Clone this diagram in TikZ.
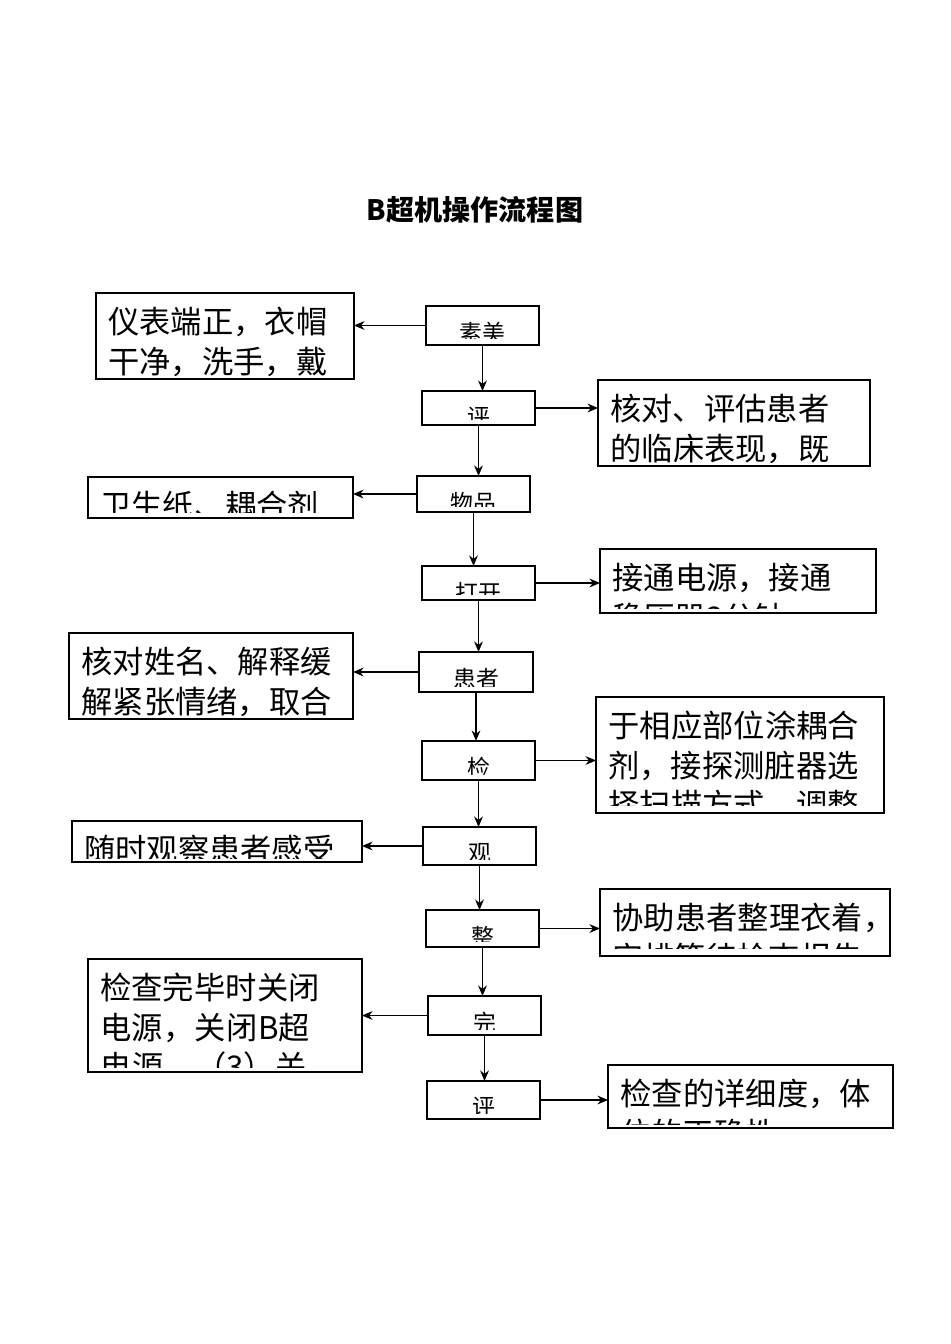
\documentclass[tikz,border=0pt]{standalone}
\usepackage{fontspec}
\setmainfont{Noto Sans CJK SC}
\XeTeXlinebreaklocale "zh"
\XeTeXlinebreakskip=0pt plus 1pt
\usetikzlibrary{arrows.meta}

% box drawn from pixel corners: name, x1, y1, x2, y2
\newcommand\mkbox[5]{%
  \node[box,minimum width={(#4-#2)*0.02cm},minimum height={(#5-#3)*0.02cm}]
    (#1) at ({(#2+#4)/2},{(#3+#5)/2}) {};}
% side text, cut off by its box: x1, y1, x2, clip bottom, text width, text
\newcommand\sidetext[6]{%
  \begin{scope}
    \clip (#1+2,#2+2) rectangle (#3-2,#4);
    \node[side text,text width=#5] at (#1+12,#2+14) {#6};
  \end{scope}}
% step text, cut off by its box: x1, y1, x2, y2, text
\newcommand\steptext[5]{%
  \begin{scope}
    \clip (#1+2,#2+2) rectangle (#3-2,#4-6);
    \node[step text] at ({(#1+#3)/2},#2+16) {#5};
  \end{scope}}

\begin{document}
\begin{tikzpicture}[x=0.02cm,y=-0.02cm,
    box/.style={draw,line width=1.1pt,inner sep=0pt,outer sep=0pt},
    side text/.style={anchor=north west,inner sep=0pt,align=left,
      font=\fontsize{17.8pt}{22.5pt}\selectfont},
    step text/.style={anchor=north,inner sep=0pt,
      font=\fontsize{13pt}{15pt}\selectfont},
    flow/.style={line width=0.8pt,-{Stealth[length=6pt,width=5pt]}}]
\useasboundingbox (0,0) rectangle (950,1344);

\node[font=\bfseries\fontsize{16pt}{18pt}\selectfont] (title) at (475,210) {B超机操作流程图};

% steps
\steptext{426}{306}{539}{345}{素美}
\mkbox{s1}{426}{306}{539}{345}
\steptext{422}{391}{535}{425}{评}
\mkbox{s2}{422}{391}{535}{425}
\steptext{417}{476}{530}{512}{物品}
\mkbox{s3}{417}{476}{530}{512}
\steptext{422}{566}{535}{600}{打开}
\mkbox{s4}{422}{566}{535}{600}
\steptext{419}{652}{533}{692}{患者}
\mkbox{s5}{419}{652}{533}{692}
\steptext{422}{741}{535}{780}{检}
\mkbox{s6}{422}{741}{535}{780}
\steptext{423}{827}{536}{865}{观}
\mkbox{s7}{423}{827}{536}{865}
\steptext{426}{910}{539}{947}{整}
\mkbox{s8}{426}{910}{539}{947}
\steptext{428}{996}{541}{1035}{完}
\mkbox{s9}{428}{996}{541}{1035}
\steptext{427}{1081}{540}{1119}{评}
\mkbox{s10}{427}{1081}{540}{1119}

% side notes
\sidetext{96}{293}{354}{376}{126pt}{仪表端正，衣帽干净，洗手，戴口罩}
\mkbox{n1}{96}{293}{354}{379}
\sidetext{598}{380}{870}{462}{126pt}{核对、评估患者的临床表现，既往史}
\mkbox{n2}{598}{380}{870}{466}
\sidetext{88}{477}{353}{512}{126pt}{卫生纸、耦合剂}
\mkbox{n3}{88}{477}{353}{518}
\sidetext{600}{549}{876}{608}{126pt}{接通电源，接通稳压器2分钟}
\mkbox{n4}{600}{549}{876}{613}
\sidetext{69}{633}{353}{715}{144pt}{核对姓名、解释缓解紧张情绪，取合适体位}
\mkbox{n5}{69}{633}{353}{719}
\sidetext{596}{697}{884}{805}{144pt}{于相应部位涂耦合剂，接探测脏器选择扫描方式，调整参数}
\mkbox{n6}{596}{697}{884}{813}
\sidetext{72}{821}{362}{858}{144pt}{随时观察患者感受}
\mkbox{n7}{72}{821}{362}{862}
\sidetext{600}{889}{890}{948}{162pt}{协助患者整理衣着，安排等待检查报告}
\mkbox{n8}{600}{889}{890}{956}
\sidetext{88}{959}{362}{1067}{126pt}{检查完毕时关闭电源，关闭B超电源。（3）关闭}
\mkbox{n9}{88}{959}{362}{1072}
\sidetext{608}{1065}{893}{1124}{144pt}{检查的详细度，体位的正确性}
\mkbox{n10}{608}{1065}{893}{1128}

% down the main line
\foreach \a/\b in {s1/s2,s2/s3,s3/s4,s4/s5,s5/s6,s6/s7,s7/s8,s8/s9,s9/s10}
  \draw[flow] (\a.south) -- (\a.south |- \b.north);

% out to the notes
\foreach \a/\b in {s1/n1,s3/n3,s5/n5,s7/n7,s9/n9}
  \draw[flow] (\a.west) -- (\a.west -| \b.east);
\foreach \a/\b in {s2/n2,s4/n4,s6/n6,s8/n8,s10/n10}
  \draw[flow] (\a.east) -- (\a.east -| \b.west);
\end{tikzpicture}
\end{document}
